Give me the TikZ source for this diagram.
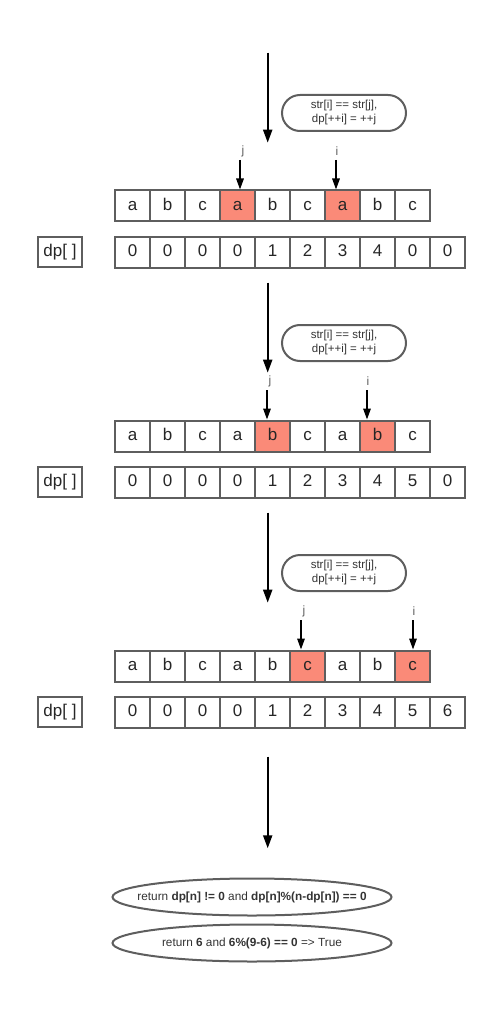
\documentclass[tikz,border=0pt]{standalone}
\usepackage{xcolor}
\usepackage{fontspec}
\setmainfont{Liberation Sans}
\usetikzlibrary{arrows.meta,shapes.geometric}
\definecolor{hit}{HTML}{FA8A78}
\definecolor{edge}{HTML}{5E5E5E}
\definecolor{ink}{HTML}{333333}

\begin{document}
\begin{tikzpicture}[x=1pt,y=-1pt,
  cell/.style={draw=edge,line width=2pt,minimum width=35pt,minimum height=31pt,inner sep=0pt,text height=12.5pt,text depth=3.5pt,font=\fontsize{17}{20}\selectfont,text=black!85},
  bubble/.style={draw=edge,line width=2pt,rounded corners=18pt,minimum width=124pt,minimum height=36pt,inner sep=0pt,align=center,font=\fontsize{11.5}{14}\selectfont,text=ink},
  oval/.style={ellipse,draw=edge,line width=2pt,minimum width=279pt,minimum height=37pt,inner xsep=-30pt,inner ysep=0pt,font=\fontsize{11.8}{14}\selectfont,text=ink},
  marker/.style={inner sep=0pt,text=edge,font=\fontsize{12}{14}\selectfont},
  flow/.style={line width=2pt,-{Triangle[length=13pt,width=9pt]}},
  ptr/.style={line width=1.6pt,-{Triangle[length=11pt,width=7.5pt]}}]
  \useasboundingbox (0,0) rectangle (502,1024);

  %one block per match step
  \foreach \k/\j/\i/\jx/\ix/\p/\q in {1/4/7/240/336/0/0,2/5/8/267/367/5/0,3/6/9/301/413/5/6}{
    \pgfmathtruncatemacro{\oy}{(\k-1)*230}
    \coordinate (go-\k-top) at (267.7,52.7+\oy);
    \coordinate (go-\k-end) at (267.7,142.7+\oy);
    \draw[flow] (go-\k-top) -- (go-\k-end);
    \node[bubble] (rule-\k) at (344,113+\oy) {str[i] == str[j],\\dp[++i] = ++j};

    %string row
    \foreach \c [count=\n] in {a,b,c,a,b,c,a,b,c}{
      \pgfmathtruncatemacro{\h}{(\n==\j)||(\n==\i)}
      \ifnum\h=1 \def\fc{hit}\else\def\fc{white}\fi
      \node[cell,fill=\fc] (s-\k-\n) at (97.5+35*\n,206+\oy) {\c};
    }
    %dp row
    \node[cell,minimum width=44pt,minimum height=30pt] (dp-\k) at (60,252+\oy) {dp[ ]};
    \foreach \v [count=\n] in {0,0,0,0,1,2,3,4,\p,\q}
      \node[cell] (d-\k-\n) at (97.5+35*\n,252+\oy) {\v};

    %pointers
    \node[marker] (j-\k) at (\jx+3,151+\oy) {j};
    \node[marker] (i-\k) at (\ix+1,151+\oy) {i};
    \coordinate (jp-\k) at (\jx,160+\oy);
    \coordinate (ip-\k) at (\ix,160+\oy);
    \draw[ptr] (jp-\k) -- (jp-\k |- s-\k-\j.north);
    \draw[ptr] (ip-\k) -- (ip-\k |- s-\k-\i.north);
  }

  %result
  \coordinate (go-4-top) at (267.7,756.7);
  \coordinate (go-4-end) at (267.7,848.3);
  \draw[flow] (go-4-top) -- (go-4-end);
  \node[oval] (ret) at (252,897) {return \textbf{dp[n] != 0} and \textbf{dp[n]\%(n-dp[n]) == 0}};
  \node[oval] (val) at (252,943) {return \textbf{6} and \textbf{6\%(9-6) == 0} => True};
\end{tikzpicture}
\end{document}
